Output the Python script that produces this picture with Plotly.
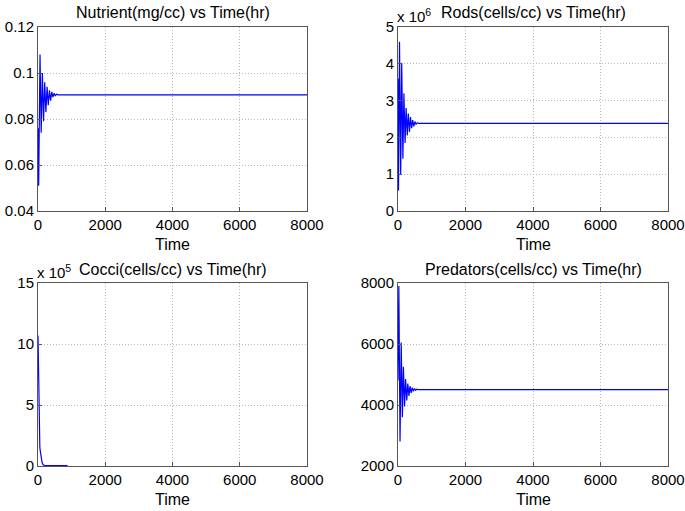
import plotly.graph_objects as go

# time grid (hr) and values
t_nutrient = [0, 20, 60, 95, 130, 165, 200, 235, 270, 305, 340, 375, 410, 445, 480, 515, 550, 600, 8000]
nutrient = [0.076, 0.051, 0.108, 0.074, 0.100, 0.079, 0.096, 0.083, 0.094, 0.086,
            0.0925, 0.088, 0.0918, 0.0895, 0.0912, 0.0900, 0.0908, 0.0905, 0.0905]

t_rods = [0, 15, 45, 80, 110, 145, 175, 210, 240, 275, 305, 340, 370, 405, 435, 470, 500, 535, 570, 610, 8000]
rods = [3.6, 0.56, 4.6, 1.0, 4.03, 1.42, 3.2, 1.85, 2.8, 2.05, 2.65, 2.15, 2.55,
        2.25, 2.47, 2.3, 2.43, 2.35, 2.4, 2.38, 2.38]  # x 1e6

t_cocci = [0, 10, 20, 30, 40, 55, 70, 90, 120, 150, 200, 300, 500, 700, 880]
cocci = [10.7, 8.5, 6.5, 4.5, 3.0, 1.5, 1.2, 0.8, 0.3, 0.1, 0.05, 0.04, 0.03, 0.03, 0.03]  # x 1e5

t_pred = [0, 25, 60, 95, 130, 160, 195, 225, 260, 290, 325, 355, 390, 420, 455, 490, 525, 560, 600, 8000]
predators = [4800, 7900, 2800, 6050, 3600, 5250, 3950, 4850, 4150, 4700, 4300,
             4620, 4400, 4570, 4450, 4540, 4480, 4520, 4505, 4505]

x_ticks = [0, 2000, 4000, 6000, 8000]
nut_ticks = [0.04, 0.06, 0.08, 0.10, 0.12]
nut_labels = ["0.04", "0.06", "0.08", "0.1", "0.12"]
rod_ticks = [0, 1, 2, 3, 4, 5]
cocci_ticks = [0, 5, 10, 15]
pred_ticks = [2000, 4000, 6000, 8000]

W, H = 685, 511
FONT = "Liberation Sans, Arial, sans-serif"
BLUE = "#0000ff"

# panel boxes in pixels: (left, right, top, bottom)
boxes = [(38, 307, 27, 211), (398, 668, 27, 211), (38, 307, 283, 466), (398, 668, 283, 466)]


def px_x(v):
    return v / W


def px_y(v):
    return 1 - v / H


fig = go.Figure()
series = [(t_nutrient, nutrient), (t_rods, rods), (t_cocci, cocci), (t_pred, predators)]
for i, (tx, ty) in enumerate(series, 1):
    fig.add_trace(go.Scatter(
        x=tx, y=ty, mode="lines", line=dict(color=BLUE, width=1.2),
        xaxis=f"x{i}", yaxis=f"y{i}", showlegend=False,
    ))

axis_common = dict(
    showline=True, mirror=True, linecolor="#555555", linewidth=1,
    ticks="inside", ticklen=4, tickcolor="#555555",
    showgrid=True, gridcolor="#b8b8b8", griddash="1px,2px", gridwidth=1,
    zeroline=False, automargin=False,
    tickfont=dict(size=15, color="black", family=FONT),
)

yspecs = [
    dict(range=[0.04, 0.12], tickvals=nut_ticks, ticktext=nut_labels),
    dict(range=[0, 5], tickvals=rod_ticks),
    dict(range=[0, 15], tickvals=cocci_ticks),
    dict(range=[2000, 8000], tickvals=pred_ticks),
]

layout = {}
for i, (l, r, t, b) in enumerate(boxes, 1):
    sfx = "" if i == 1 else str(i)
    layout[f"xaxis{sfx}"] = dict(
        axis_common, domain=[px_x(l), px_x(r)], range=[0, 8000], tickvals=x_ticks,
        anchor=f"y{i}",
    )
    layout[f"yaxis{sfx}"] = dict(
        axis_common, domain=[px_y(b), px_y(t)], anchor=f"x{i}", **yspecs[i - 1]
    )
fig.update_layout(**layout)

titles = [
    "Nutrient(mg/cc) vs Time(hr)",
    "Rods(cells/cc) vs Time(hr)",
    "Cocci(cells/cc) vs Time(hr)",
    "Predators(cells/cc) vs Time(hr)",
]
annotations = []
for (l, r, t, b), title in zip(boxes, titles):
    cx = px_x((l + r) / 2)
    annotations.append(dict(
        text=title, x=cx, y=px_y(t - 14), xref="paper", yref="paper",
        showarrow=False, xanchor="center", yanchor="middle",
        font=dict(size=16, color="black", family=FONT),
    ))
    annotations.append(dict(
        text="Time", x=cx, y=px_y(b + 33), xref="paper", yref="paper",
        showarrow=False, xanchor="center", yanchor="middle",
        font=dict(size=16, color="black", family=FONT),
    ))

# exponent multipliers on the rods and cocci panels
for (l, r, t, b), label in [(boxes[1], "x 10<sup>6</sup>"), (boxes[2], "x 10<sup>5</sup>")]:
    annotations.append(dict(
        text=label, x=px_x(l), y=px_y(t - 12), xref="paper", yref="paper",
        showarrow=False, xanchor="left", yanchor="middle", xshift=-3,
        font=dict(size=15, color="black", family=FONT),
    ))

fig.update_layout(
    width=W, height=H,
    margin=dict(l=0, r=0, t=0, b=0),
    paper_bgcolor="white", plot_bgcolor="white",
    annotations=annotations,
    font=dict(family=FONT, size=15, color="black"),
)

# drop the default page margin so the figure sits at the window origin
fig.write_html(
    "out.html",
    config={"displayModeBar": False},
    post_script="document.body.style.margin = '0';",
)
